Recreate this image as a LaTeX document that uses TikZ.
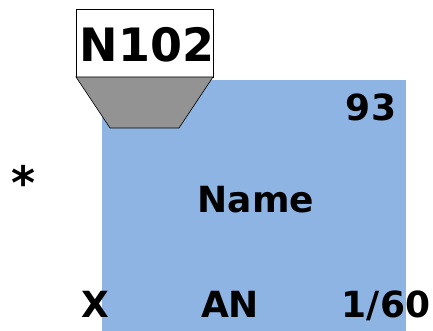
\documentclass[tikz,border=0pt]{standalone}
\usepackage{fontspec}
\setmainfont{DejaVu Sans}
\definecolor{boxblue}{HTML}{8EB4E3}
\definecolor{trapgray}{HTML}{939393}
\tikzset{
  lbl/.style={anchor=base, inner sep=0pt, font=\bfseries\fontsize{36}{40}\selectfont},
  biglbl/.style={anchor=base, inner sep=0pt, font=\bfseries\fontsize{46}{52}\selectfont},
}
\begin{document}
\begin{tikzpicture}[x=1pt,y=1pt]
\useasboundingbox (0,0) rectangle (433,331);
% blue body
\fill[boxblue] (102,0) rectangle (406,251) coordinate (bodytr);
% white label box
\draw[black, line width=0.6pt, fill=white] (76,254) rectangle (213,322);
% trapezoid
\draw[black, line width=0.6pt, fill=trapgray] (76,254) -- (213,254) -- (179,203) -- (110,203) -- cycle;
\node[biglbl] (id) at (147,269) {N102};
\node[lbl] (num) at (371,210) {93};
\node[lbl] (name) at (256,118) {Name};
\node[lbl] (x) at (95,13) {X};
\node[lbl] (an) at (230,13) {AN};
\node[lbl] (frac) at (386,13) {1/60};
\node[biglbl] (star) at (24,131) {*};
\end{tikzpicture}
\end{document}
